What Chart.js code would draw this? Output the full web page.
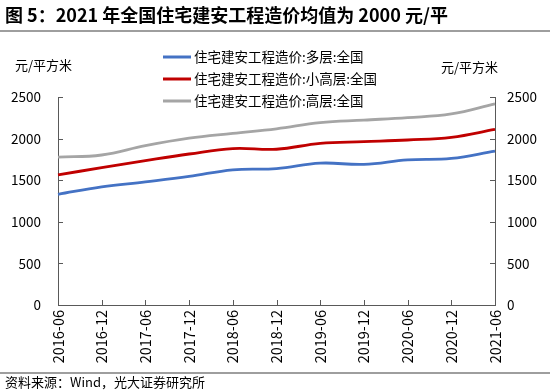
<!DOCTYPE html>
<html>
<head>
<meta charset="utf-8">
<script src="https://cdn.jsdelivr.net/npm/chart.js@4"></script>
<style>
  body { margin: 0; background: #fff; }
  #wrap { width: 550px; height: 392px; }
</style>
</head>
<body>
<div id="wrap"><canvas id="costChart" width="550" height="392"></canvas></div>
<script>
const labels = ['2016-06', '2016-12', '2017-06', '2017-12', '2018-06', '2018-12',
  '2019-06', '2019-12', '2020-06', '2020-12', '2021-06'];
// 住宅建安工程造价 (元/平方米)
const multiStorey = [1330, 1420, 1480, 1545, 1625, 1640, 1705, 1690, 1745, 1762, 1850];
const smallHighRise = [1565, 1650, 1735, 1815, 1880, 1872, 1943, 1963, 1983, 2015, 2110];
const highRise = [1778, 1803, 1915, 2005, 2063, 2118, 2192, 2222, 2252, 2296, 2418];
const yTicks = [0, 500, 1000, 1500, 2000, 2500];

const titleText = '图 5：2021 年全国住宅建安工程造价均值为 2000 元/平';
const sourceText = '资料来源：Wind，光大证券研究所';
const unitText = '元/平方米';
const FONT = '"Noto Sans CJK SC", "Noto Sans", sans-serif';

// 标题、分隔线、单位、图例和内向刻度线
const decor = {
  id: 'decor',
  afterDraw(chart) {
    const ctx = chart.ctx;
    const { left, right, bottom } = chart.chartArea;
    ctx.save();
    ctx.fillStyle = '#000';
    ctx.textBaseline = 'middle';
    ctx.font = 'bold 18px ' + FONT;
    ctx.fillText(titleText, 5, 15);

    ctx.strokeStyle = '#7f7f7f';
    ctx.lineWidth = 1.5;
    ctx.beginPath();
    ctx.moveTo(0, 31); ctx.lineTo(550, 31);
    ctx.moveTo(0, 373); ctx.lineTo(550, 373);
    ctx.stroke();

    ctx.font = '13px ' + FONT;
    ctx.fillText(sourceText, 5, 382);
    ctx.fillText(unitText, 15, 65);
    ctx.fillText(unitText, 441, 67);

    // 图例
    ctx.font = '13.5px ' + FONT;
    chart.data.datasets.forEach((ds, i) => {
      const y = 57 + i * 22;
      ctx.strokeStyle = ds.borderColor;
      ctx.lineWidth = 3;
      ctx.beginPath();
      ctx.moveTo(163, y); ctx.lineTo(191, y);
      ctx.stroke();
      ctx.fillStyle = '#000';
      ctx.fillText(ds.label, 194, y);
    });

    // 刻度线
    ctx.strokeStyle = '#595959';
    ctx.lineWidth = 1;
    ctx.beginPath();
    const xs = chart.scales.x;
    xs.ticks.forEach((t, i) => {
      const x = Math.round(xs.getPixelForTick(i)) + 0.5;
      ctx.moveTo(x, bottom); ctx.lineTo(x, bottom - 5);
    });
    const ys = chart.scales.y;
    ys.ticks.forEach((t, i) => {
      const y = Math.round(ys.getPixelForTick(i)) + 0.5;
      ctx.moveTo(left, y); ctx.lineTo(left + 5, y);
      ctx.moveTo(right, y); ctx.lineTo(right - 5, y);
    });
    ctx.stroke();
    ctx.restore();
  }
};

const yAxis = (position, width, pad) => ({
  position,
  min: 0,
  max: 2500,
  afterBuildTicks: (s) => { s.ticks = yTicks.map(v => ({ value: v })); },
  afterFit: (s) => { s.width = width; },
  grid: { display: false, drawTicks: false },
  border: { display: true, color: '#595959', width: 1 },
  ticks: {
    padding: pad, color: '#000', font: { size: 13.5, family: FONT },
    callback: (v) => String(v)
  }
});

const ctx = document.getElementById('costChart').getContext('2d');
const costChart = new Chart(ctx, {
  type: 'line',
  data: {
    labels: labels,
    datasets: [
      { label: '住宅建安工程造价:多层:全国', data: multiStorey, borderColor: '#4472C4' },
      { label: '住宅建安工程造价:小高层:全国', data: smallHighRise, borderColor: '#C00000' },
      { label: '住宅建安工程造价:高层:全国', data: highRise, borderColor: '#A5A5A5' }
    ]
  },
  options: {
    responsive: false,
    animation: false,
    layout: { padding: { top: 97, left: 0, right: 0, bottom: 0 } },
    elements: {
      line: { borderWidth: 2.8, tension: 0.4, fill: false },
      point: { radius: 0 }
    },
    plugins: { legend: { display: false }, tooltip: { enabled: false } },
    scales: {
      x: {
        offset: false,
        afterFit: (s) => { s.height = 87; },
        grid: { display: false, drawTicks: false },
        border: { display: true, color: '#595959', width: 1 },
        ticks: {
          autoSkip: false, minRotation: 90, maxRotation: 90, padding: 5,
          color: '#000', font: { size: 14.5, family: FONT }
        }
      },
      y: yAxis('left', 58, 17),
      y1: yAxis('right', 55, 12)
    }
  },
  plugins: [decor]
});
</script>
</body>
</html>
